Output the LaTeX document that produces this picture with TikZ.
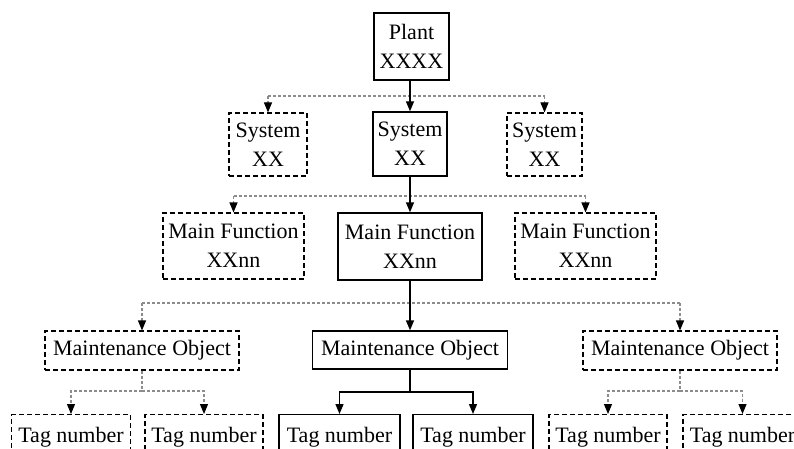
\documentclass[tikz,border=0pt]{standalone}
\usepackage{fontspec}
\setmainfont{Liberation Serif}
\usetikzlibrary{arrows.meta}
\begin{document}
\begin{tikzpicture}[x=1pt,y=-1pt,
  font=\fontsize{22}{29}\selectfont,
  box/.style={draw=black,line width=1.4pt,rectangle,inner sep=0pt,align=center,fill=white},
  dbox/.style={draw=black,line width=1.1pt,dash pattern=on 5pt off 3pt,rectangle,inner sep=0pt,align=center,fill=white},
  link/.style={draw=black,line width=1.4pt,-{Triangle[length=10pt,width=8pt]}},
  bus/.style={draw=black!45,line width=1.1pt,dash pattern=on 3pt off 2pt},
  dlink/.style={bus,-{Triangle[length=10pt,width=8pt,color=black]}},
  tag/.style={minimum height=46pt,anchor=north}
]
\clip (0,0) rectangle (794,449);
\fill[white] (0,0) rectangle (794,449);

% bus levels
\coordinate (busA) at (0,96);
\coordinate (busB) at (0,196);
\coordinate (busC) at (0,303);

% level 1
\node[box,minimum width=75pt,minimum height=67pt] (plant) at (411.5,46.5) {Plant\\XXXX};

% level 2
\node[dbox,minimum width=78pt,minimum height=63pt] (sysL) at (268,144.5) {System\\XX};
\node[box,minimum width=74pt,minimum height=64pt] (sysM) at (410,144) {System\\XX};
\node[dbox,minimum width=75pt,minimum height=63pt] (sysR) at (544.5,144.5) {System\\XX};

% level 3
\node[dbox,minimum width=141pt,minimum height=66pt] (mfL) at (233.5,246) {Main Function\\XXnn};
\node[box,minimum width=144pt,minimum height=67pt] (mfM) at (410,246.5) {Main Function\\XXnn};
\node[dbox,minimum width=141pt,minimum height=66pt] (mfR) at (585.5,246) {Main Function\\XXnn};

% level 4
\node[dbox,minimum width=194pt,minimum height=39pt] (moL) at (142,350.5) {Maintenance Object};
\node[box,minimum width=195pt,minimum height=38pt] (moM) at (410,350) {Maintenance Object};
\node[dbox,minimum width=194pt,minimum height=39pt] (moR) at (680,350.5) {Maintenance Object};

% level 5
\node[dbox,tag,minimum width=119pt] (t1) at (71,414) {Tag number};
\node[dbox,tag,minimum width=118pt] (t2) at (204,414) {Tag number};
\node[box,tag,minimum width=121pt] (t3) at (339.5,414) {Tag number};
\node[box,tag,minimum width=120pt] (t4) at (473,414) {Tag number};
\node[dbox,tag,minimum width=118pt] (t5) at (608,414) {Tag number};
\node[dbox,tag,minimum width=119pt] (t6) at (742.5,414) {Tag number};

% plant -> systems
\draw[bus] (sysL.north |- busA) -- (sysR.north |- busA);
\draw[dlink] (sysL.north |- busA) -- (sysL.north);
\draw[dlink] (sysR.north |- busA) -- (sysR.north);
\draw[link] (plant.south -| sysM.north) -- (sysM.north);

% system -> main functions
\draw[bus] (mfL.north |- busB) -- (mfR.north |- busB);
\draw[dlink] (mfL.north |- busB) -- (mfL.north);
\draw[dlink] (mfR.north |- busB) -- (mfR.north);
\draw[link] (sysM.south) -- (mfM.north);

% main function -> maintenance objects
\draw[bus] (moL.north |- busC) -- (moR.north |- busC);
\draw[dlink] (moL.north |- busC) -- (moL.north);
\draw[dlink] (moR.north |- busC) -- (moR.north);
\draw[link] (mfM.south) -- (moM.north);

% maintenance objects -> tag numbers
\coordinate (jL) at (142,391);
\coordinate (jM) at (410,392);
\coordinate (jR) at (680,391);
\draw[bus] (moL.south) -- (jL);
\draw[dlink] (jL) -| (t1.north);
\draw[dlink] (jL) -| (t2.north);
\draw[bus] (moR.south) -- (jR);
\draw[dlink] (jR) -| (t5.north);
\draw[dlink] (jR) -| (t6.north);
\draw[line width=1.4pt] (moM.south) -- (jM);
\draw[link] (jM) -| (t3.north);
\draw[link] (jM) -| (t4.north);
\end{tikzpicture}
\end{document}
